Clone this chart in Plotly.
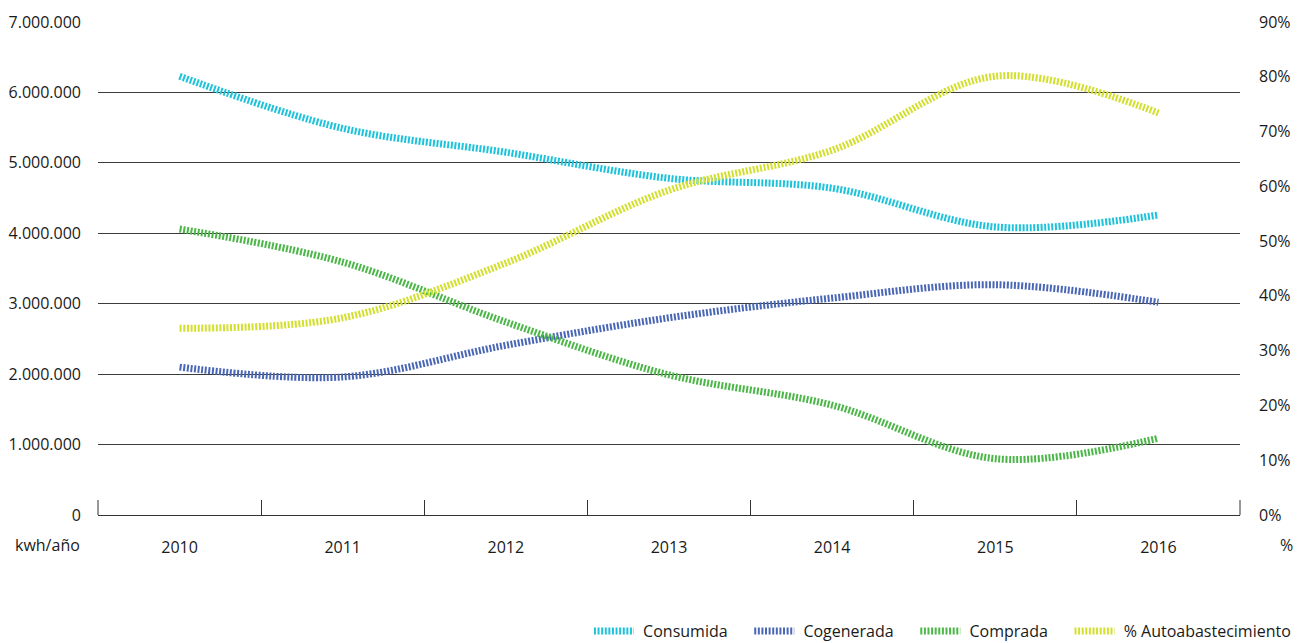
import plotly.graph_objects as go

# Annual electricity balance (kWh/year) and self-supply share
years = ["2010", "2011", "2012", "2013", "2014", "2015", "2016"]
consumida = [6230000, 5490000, 5150000, 4780000, 4640000, 4090000, 4260000]
cogenerada = [2100000, 1960000, 2410000, 2800000, 3080000, 3270000, 3020000]
comprada = [4060000, 3590000, 2740000, 1990000, 1560000, 800000, 1090000]
autoabastecimiento = [0.341, 0.360, 0.460, 0.593, 0.666, 0.801, 0.734]

left_ticks = [0, 1000000, 2000000, 3000000, 4000000, 5000000, 6000000, 7000000]
right_ticks = [0, 0.1, 0.2, 0.3, 0.4, 0.5, 0.6, 0.7, 0.8, 0.9]

FONT = "Open Sans"
SIZE = 16
TXT = "#1a1a1a"
PAD = "\u00a0" * 4
PLOT_H = 643 - 22 - 128

series = [
    ("Consumida", consumida, "#1cc3da", "y"),
    ("Cogenerada", cogenerada, "#4a67b6", "y"),
    ("Comprada", comprada, "#4cb748", "y"),
    ("% Autoabastecimiento", autoabastecimiento, "#d3df2e", "y2"),
]

fig = go.Figure()
for i, (name, vals, color, axis) in enumerate(series):
    label = "\u00a0" + name + ("" if i == len(series) - 1 else PAD)
    fig.add_trace(go.Scatter(
        x=years, y=vals, name=label, mode="lines", yaxis=axis,
        line=dict(color=color, width=7, shape="spline", smoothing=1.0,
                  dash="2px,1.6px"),
        hoverinfo="x+y",
    ))

# Boundary tick marks between the year categories
fig.add_trace(go.Scatter(x=[None], y=[None], xaxis="x2", yaxis="y",
                         showlegend=False, hoverinfo="skip"))

fig.update_layout(
    width=1306, height=643,
    margin=dict(l=98, r=66, t=22, b=128, autoexpand=False),
    paper_bgcolor="white", plot_bgcolor="white",
    separators=",.",
    font=dict(family=FONT, size=SIZE, color=TXT),
    showlegend=True,
    legend=dict(orientation="h", x=1.049, xanchor="right", y=-0.2356,
                yanchor="middle", font=dict(family=FONT, size=SIZE, color=TXT),
                itemwidth=40, tracegroupgap=0, bgcolor="rgba(0,0,0,0)"),
    xaxis=dict(
        type="category", range=[-0.5, 6.5],
        ticks="", showline=True, linecolor="#333333", linewidth=1,
        showgrid=False, zeroline=False,
        ticklabelstandoff=18,
        tickfont=dict(family=FONT, size=SIZE, color=TXT),
    ),
    xaxis2=dict(
        overlaying="x", anchor="y", side="bottom", type="linear",
        range=[-0.5, 6.5],
        tickvals=[0.5, 1.5, 2.5, 3.5, 4.5, 5.5],
        ticks="inside", ticklen=15, tickcolor="#333333", tickwidth=1,
        showticklabels=False, showgrid=False, zeroline=False, showline=False,
    ),
    yaxis=dict(
        range=[0, 7000000], tickvals=left_ticks, tickformat=",d",
        showgrid=True, gridcolor="#3c3c3c", gridwidth=1.3,
        zeroline=False, showline=False, ticks="",
        ticklabelstandoff=16,
        tickfont=dict(family=FONT, size=SIZE, color=TXT),
    ),
    yaxis2=dict(
        overlaying="y", side="right", range=[0, 0.9],
        tickvals=right_ticks, tickformat=".0%",
        showgrid=False, zeroline=False, showline=False, ticks="",
        ticklabelstandoff=18,
        tickfont=dict(family=FONT, size=SIZE, color=TXT),
    ),
)

# End ticks closing the category axis at both sides
for edge in (0, 1):
    fig.add_shape(type="line", xref="x domain", yref="y domain",
                  x0=edge, x1=edge, y0=0, y1=15 / PLOT_H,
                  line=dict(color="#333333", width=1), layer="above")

# Unit captions beside the category labels
fig.add_annotation(text="kwh/año", xref="paper", yref="paper",
                   x=0, xanchor="right", xshift=-16, y=0, yshift=-30,
                   yanchor="middle", showarrow=False,
                   font=dict(family=FONT, size=SIZE, color=TXT))
fig.add_annotation(text="%", xref="paper", yref="paper",
                   x=1.0, xanchor="left", xshift=38, y=0, yshift=-30,
                   yanchor="middle", showarrow=False,
                   font=dict(family=FONT, size=SIZE, color=TXT))

fig.write_html("out.html")
